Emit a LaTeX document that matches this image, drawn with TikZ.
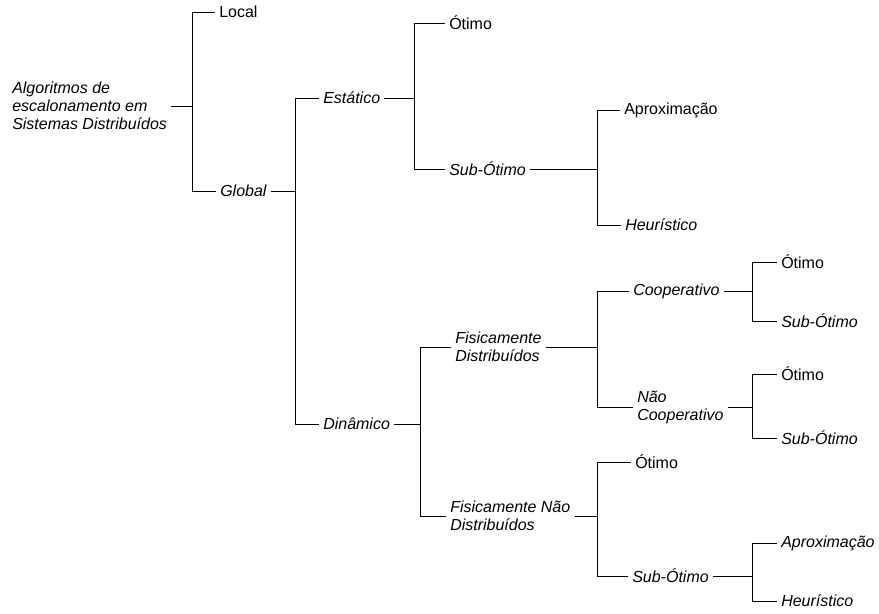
\documentclass[tikz,border=0pt]{standalone}
\usepackage{fontspec}
\setmainfont{Liberation Sans}
\tikzset{
    ramo/.style={line width=0.75pt},
    folha/.style={anchor=west, inner xsep=3pt, font=\fontsize{12}{13.5}\selectfont},
    folhait/.style={folha, font=\fontsize{12}{13.5}\selectfont\itshape},
    bloco/.style={folhait, align=left},
}
\begin{document}
\begin{tikzpicture}[x=0.75pt,y=-0.75pt]
                \useasboundingbox
                    (0,0) rectangle (879,614);
                \coordinate (colA) at (192,0);
                \coordinate (colB) at (295,0);
                \coordinate (colC) at (414,0);
                \coordinate (colD) at (420,0);
                \coordinate (colE) at (597,0);
                \coordinate (colF) at (752,0);
                \node[bloco] (raiz) at (8,106)
                    {Algoritmos de\\escalonamento em\\Sistemas Distribuídos};
                \node[folha] (local) at (215,12) {Local};
                \node[folhait] (global) at (216,191) {Global};
                \node[folhait] (estatico) at (319,98) {Estático};
                \node[folhait] (dinamico) at (319,424) {Dinâmico};
                \node[folha] (otimoA) at (445,23) {Ótimo};
                \node[folhait] (subA) at (445,169) {Sub-Ótimo};
                \node[folha] (aproxA) at (620,110) {Aproximação};
                \node[folhait] (heurA) at (621,225) {Heurístico};
                \node[bloco] (fisdist) at (451,347)
                    {Fisicamente\\Distribuídos};
                \node[bloco] (fisndist) at (446,516)
                    {Fisicamente Não\\Distribuídos};
                \node[folhait] (coop) at (629,291) {Cooperativo};
                \node[bloco] (naocoop) at (633,407) {Não\\Cooperativo};
                \node[folha] (otimoB) at (777,262) {Ótimo};
                \node[folhait] (subB) at (777,321) {Sub-Ótimo};
                \node[folha] (otimoC) at (777,374) {Ótimo};
                \node[folhait] (subC) at (777,438) {Sub-Ótimo};
                \node[folha] (otimoD) at (631,462) {Ótimo};
                \node[folhait] (subD) at (628,576) {Sub-Ótimo};
                \node[folhait] (aproxD) at (777,543) {Aproximação};
                \node[folhait] (heurD) at (777,601) {Heurístico};
                \draw[ramo]
                    (raiz.east) -- (raiz.east -| colA) |- (local.west);
                \draw[ramo]
                    (raiz.east -| colA) |- (global.west);
                \draw[ramo]
                    (global.east) -- (global.east -| colB) |- (estatico.west);
                \draw[ramo]
                    (global.east -| colB) |- (dinamico.west);
                \draw[ramo]
                    (estatico.east) -- (estatico.east -| colC) |- (otimoA.west);
                \draw[ramo]
                    (estatico.east -| colC) |- (subA.west);
                \draw[ramo]
                    (subA.east) -- (subA.east -| colE) |- (aproxA.west);
                \draw[ramo]
                    (subA.east -| colE) |- (heurA.west);
                \draw[ramo]
                    (dinamico.east) -- (dinamico.east -| colD) |- (fisdist.west);
                \draw[ramo]
                    (dinamico.east -| colD) |- (fisndist.west);
                \draw[ramo]
                    (fisdist.east) -- (fisdist.east -| colE) |- (coop.west);
                \draw[ramo]
                    (fisdist.east -| colE) |- (naocoop.west);
                \draw[ramo]
                    (coop.east) -- (coop.east -| colF) |- (otimoB.west);
                \draw[ramo]
                    (coop.east -| colF) |- (subB.west);
                \draw[ramo]
                    (naocoop.east) -- (naocoop.east -| colF) |- (otimoC.west);
                \draw[ramo]
                    (naocoop.east -| colF) |- (subC.west);
                \draw[ramo]
                    (fisndist.east) -- (fisndist.east -| colE) |- (otimoD.west);
                \draw[ramo]
                    (fisndist.east -| colE) |- (subD.west);
                \draw[ramo]
                    (subD.east) -- (subD.east -| colF) |- (aproxD.west);
                \draw[ramo]
                    (subD.east -| colF) |- (heurD.west);
\end{tikzpicture}
\end{document}
